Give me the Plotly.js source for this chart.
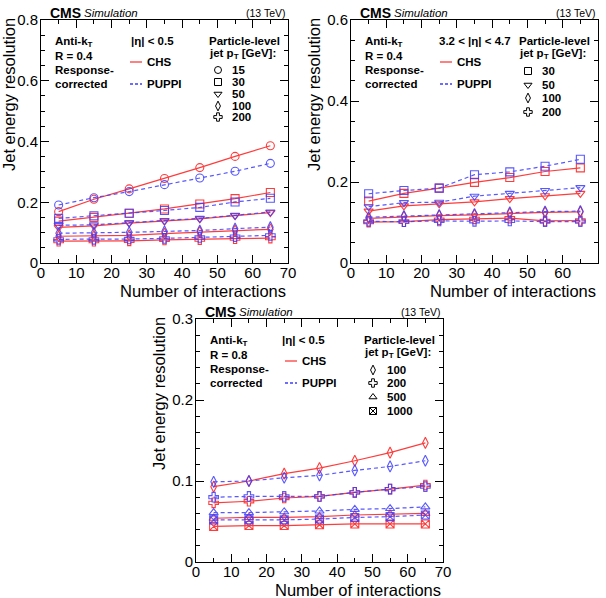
<!DOCTYPE html>
<html>
<head>
<meta charset="utf-8">
<script src="https://cdn.plot.ly/plotly-3.0.1.min.js"></script>
<style>
  html, body { margin: 0; padding: 0; background: #fff; }
  #chart { width: 606px; height: 598px; }
</style>
</head>
<body>
<div id="chart"></div>
<script>
// Number of pileup interactions (bin centres)
const nInteractions = [5, 15, 25, 35, 45, 55, 65];

// Panel A: anti-kT R=0.4, |eta| < 0.5
const ptLabelsA = ['15', '30', '50', '100', '200'];
const chsA_15  = [0.169, 0.210, 0.244, 0.278, 0.314, 0.351, 0.386];
const chsA_30  = [0.138, 0.150, 0.164, 0.178, 0.194, 0.212, 0.232];
const chsA_50  = [0.117, 0.122, 0.131, 0.138, 0.145, 0.156, 0.166];
const chsA_100 = [0.088, 0.089, 0.091, 0.097, 0.102, 0.107, 0.111];
const chsA_200 = [0.072, 0.072, 0.073, 0.076, 0.077, 0.080, 0.082];
const puppiA_15  = [0.191, 0.215, 0.235, 0.258, 0.280, 0.302, 0.328];
const puppiA_30  = [0.147, 0.155, 0.164, 0.173, 0.183, 0.201, 0.213];
const puppiA_50  = [0.124, 0.126, 0.133, 0.140, 0.147, 0.157, 0.168];
const puppiA_100 = [0.098, 0.099, 0.101, 0.104, 0.107, 0.113, 0.118];
const puppiA_200 = [0.078, 0.078, 0.079, 0.081, 0.084, 0.087, 0.091];

// Panel B: anti-kT R=0.4, 3.2 < |eta| < 4.7
const ptLabelsB = ['30', '50', '100', '200'];
const chsB_30  = [0.153, 0.172, 0.185, 0.199, 0.211, 0.226, 0.235];
const chsB_50  = [0.128, 0.141, 0.146, 0.151, 0.159, 0.166, 0.172];
const chsB_100 = [0.110, 0.114, 0.117, 0.119, 0.122, 0.125, 0.126];
const chsB_200 = [0.101, 0.102, 0.107, 0.109, 0.111, 0.104, 0.105];
const puppiB_30  = [0.171, 0.179, 0.185, 0.218, 0.225, 0.239, 0.256];
const puppiB_50  = [0.139, 0.149, 0.150, 0.165, 0.172, 0.179, 0.186];
const puppiB_100 = [0.113, 0.116, 0.118, 0.121, 0.125, 0.127, 0.128];
const puppiB_200 = [0.103, 0.102, 0.104, 0.103, 0.104, 0.102, 0.102];

// Panel C: anti-kT R=0.8, |eta| < 0.5
const ptLabelsC = ['100', '200', '500', '1000'];
const chsC_100  = [0.093, 0.100, 0.109, 0.116, 0.125, 0.135, 0.147];
const chsC_200  = [0.073, 0.075, 0.079, 0.081, 0.086, 0.090, 0.095];
const chsC_500  = [0.054, 0.055, 0.055, 0.056, 0.058, 0.059, 0.060];
const chsC_1000 = [0.044, 0.045, 0.045, 0.046, 0.047, 0.047, 0.047];
const puppiC_100  = [0.099, 0.100, 0.104, 0.107, 0.113, 0.118, 0.125];
const puppiC_200  = [0.080, 0.081, 0.081, 0.081, 0.086, 0.090, 0.093];
const puppiC_500  = [0.061, 0.061, 0.062, 0.063, 0.065, 0.066, 0.068];
const puppiC_1000 = [0.052, 0.052, 0.052, 0.053, 0.055, 0.056, 0.058];

// Styling
const RED = 'rgb(255,60,60)';
const BLUE = 'rgb(60,60,255)';
const FONT = 'Liberation Sans, Arial, Helvetica, sans-serif';
const SYM = {
  '15': 'circle-open', '30': 'square-open', '50': 'triangle-down-open',
  '100': 'diamond-tall-open', '200': 'cross-open',
  '500': 'triangle-up-open', '1000': 'square-x-open'
};

const W = 606, H = 598;
const px = x => x / W;
const py = y => 1 - y / H;

const traces = [];
function addSeries(xa, ya, pt, chs, puppi) {
  traces.push({
    x: nInteractions, y: chs, xaxis: xa, yaxis: ya, type: 'scatter', mode: 'lines+markers',
    line: { color: RED, width: 1.2 },
    marker: { symbol: SYM[pt], size: 8, color: RED, line: { color: RED, width: 1.1 } },
    showlegend: false, hoverinfo: 'skip'
  });
  traces.push({
    x: nInteractions, y: puppi, xaxis: xa, yaxis: ya, type: 'scatter', mode: 'lines+markers',
    line: { color: BLUE, width: 1.2, dash: '4px,3px' },
    marker: { symbol: SYM[pt], size: 8, color: BLUE, line: { color: BLUE, width: 1.1 } },
    showlegend: false, hoverinfo: 'skip', opacity: 0.85
  });
}
const seriesA = { '15': [chsA_15, puppiA_15], '30': [chsA_30, puppiA_30], '50': [chsA_50, puppiA_50],
                  '100': [chsA_100, puppiA_100], '200': [chsA_200, puppiA_200] };
const seriesB = { '30': [chsB_30, puppiB_30], '50': [chsB_50, puppiB_50],
                  '100': [chsB_100, puppiB_100], '200': [chsB_200, puppiB_200] };
const seriesC = { '100': [chsC_100, puppiC_100], '200': [chsC_200, puppiC_200],
                  '500': [chsC_500, puppiC_500], '1000': [chsC_1000, puppiC_1000] };
ptLabelsA.forEach(p => addSeries('x', 'y', p, seriesA[p][0], seriesA[p][1]));
ptLabelsB.forEach(p => addSeries('x2', 'y2', p, seriesB[p][0], seriesB[p][1]));
ptLabelsC.forEach(p => addSeries('x3', 'y3', p, seriesC[p][0], seriesC[p][1]));

// Frame geometry of the three panels (pixels)
const panels = [
  { l: 41, r: 288, t: 20, b: 263, ymax: 0.8, ydt: 0.2, ymin: 0.05 },
  { l: 351, r: 598, t: 20, b: 263, ymax: 0.6, ydt: 0.2, ymin: 0.05 },
  { l: 196, r: 443, t: 319, b: 562, ymax: 0.3, ydt: 0.1, ymin: 0.02 }
];

function xAxis(p, anchor) {
  return {
    domain: [px(p.l), px(p.r)], range: [0, 70], anchor: anchor,
    showline: true, linecolor: '#000', linewidth: 1, mirror: 'ticks',
    ticks: 'inside', ticklen: 8, tickwidth: 1, tickcolor: '#000', dtick: 10,
    minor: { dtick: 5, ticks: 'inside', ticklen: 4, tickcolor: '#000' },
    showgrid: false, zeroline: false, fixedrange: true, ticklabelstandoff: -4,
    tickfont: { family: FONT, size: 15, color: '#000' }
  };
}
function yAxis(p, anchor) {
  return {
    domain: [py(p.b), py(p.t)], range: [0, p.ymax], anchor: anchor,
    showline: true, linecolor: '#000', linewidth: 1, mirror: 'ticks',
    ticks: 'inside', ticklen: 8, tickwidth: 1, tickcolor: '#000', dtick: p.ydt,
    minor: { dtick: p.ymin, ticks: 'inside', ticklen: 4, tickcolor: '#000' },
    showgrid: false, zeroline: false, fixedrange: true, ticklabelstandoff: -1,
    tickfont: { family: FONT, size: 15, color: '#000' }
  };
}

// Key markers live on a full-page pixel axis
const keyRows = [
  { x: 218, ys: [70, 82, 94, 106, 117], pts: ptLabelsA },
  { x: 528, ys: [71, 85, 98, 112], pts: ptLabelsB },
  { x: 373, ys: [370, 383, 397, 411], pts: ptLabelsC }
];
const annotations = [];
keyRows.forEach(k => {
  traces.push({
    x: k.pts.map(() => k.x), y: k.ys, xaxis: 'x4', yaxis: 'y4', type: 'scatter', mode: 'markers',
    marker: { symbol: k.pts.map(p => SYM[p]), size: 7, color: '#000', line: { color: '#000', width: 1 } },
    showlegend: false, hoverinfo: 'skip'
  });
  k.pts.forEach((p, i) => annotations.push({
    xref: 'paper', yref: 'paper', x: px(k.x + 12), y: py(k.ys[i]), xanchor: 'left', yanchor: 'middle',
    text: '<b>' + p + '</b>', showarrow: false,
    font: { family: FONT, size: 11.5, color: '#000' }
  }));
});

function label(x, y, text, opts) {
  annotations.push(Object.assign({
    xref: 'paper', yref: 'paper', x: px(x), y: py(y), xanchor: 'left', yanchor: 'middle',
    text: text, showarrow: false,
    font: { family: FONT, size: 11.5, color: '#000' }
  }, opts || {}));
}

const shapes = [];
function keyLine(x0, y, color, dash) {
  shapes.push({ type: 'line', xref: 'paper', yref: 'paper', x0: px(x0), x1: px(x0 + 12), y0: py(y), y1: py(y),
                line: { color: color, width: 1.3, dash: dash } });
}

const boxes = [
  { p: panels[0], eta: '|η| < 0.5', R: '0.4', etaX: 129, cols: [53, 130, 207] },
  { p: panels[1], eta: '3.2 < |η| < 4.7', R: '0.4', etaX: 437, cols: [363, 440, 517] },
  { p: panels[2], eta: '|η| < 0.5', R: '0.8', etaX: 280, cols: [208, 285, 362] }
];
boxes.forEach(b => {
  const t = b.p.t;
  // header
  label(b.p.l + 7, t - 7, '<b>CMS</b>', { font: { family: FONT, size: 14, color: '#000' } });
  label(b.p.l + 41, t - 7, '<i>Simulation</i>', { font: { family: FONT, size: 11.5, color: '#000' } });
  label(b.p.r, t - 7, '(13 TeV)', { xanchor: 'right', font: { family: FONT, size: 10.5, color: '#000' } });
  // jet definition
  const c = b.cols;
  label(c[0], t + 22, '<b>Anti-k<sub>T</sub></b>');
  label(c[0], t + 36, '<b>R = ' + b.R + '</b>');
  label(c[0], t + 50, '<b>Response-</b>');
  label(c[0], t + 64, '<b>corrected</b>');
  label(b.etaX, t + 21, '<b>' + b.eta + '</b>');
  keyLine(c[1], t + 42, RED, 'solid');
  label(c[1] + 15, t + 42, '<b>CHS</b>');
  keyLine(c[1], t + 64, BLUE, '3px,2px');
  label(c[1] + 15, t + 64, '<b>PUPPI</b>');
  label(c[2], t + 21, '<b>Particle-level</b>');
  label(c[2], t + 34, '<b>jet p<sub>T</sub> [GeV]:</b>');
  // axis titles
  label(b.p.r, b.p.b + 28, 'Number of interactions',
        { xanchor: 'right', font: { family: FONT, size: 16.5, color: '#000' } });
  label(Math.max(b.p.l - 37, 9), (b.p.t + b.p.t + 150) / 2, 'Jet energy resolution',
        { xanchor: 'center', textangle: -90, font: { family: FONT, size: 16.5, color: '#000' } });
});

const layout = {
  width: W, height: H,
  margin: { l: 0, r: 0, t: 0, b: 0 },
  paper_bgcolor: '#fff', plot_bgcolor: 'rgba(0,0,0,0)',
  showlegend: false,
  xaxis: xAxis(panels[0], 'y'), yaxis: yAxis(panels[0], 'x'),
  xaxis2: xAxis(panels[1], 'y2'), yaxis2: yAxis(panels[1], 'x2'),
  xaxis3: xAxis(panels[2], 'y3'), yaxis3: yAxis(panels[2], 'x3'),
  xaxis4: { domain: [0, 1], range: [0, W], anchor: 'y4', visible: false, fixedrange: true },
  yaxis4: { domain: [0, 1], range: [H, 0], anchor: 'x4', visible: false, fixedrange: true },
  annotations: annotations,
  shapes: shapes
};

Plotly.newPlot('chart', traces, layout, { staticPlot: true, displayModeBar: false });
</script>
</body>
</html>
